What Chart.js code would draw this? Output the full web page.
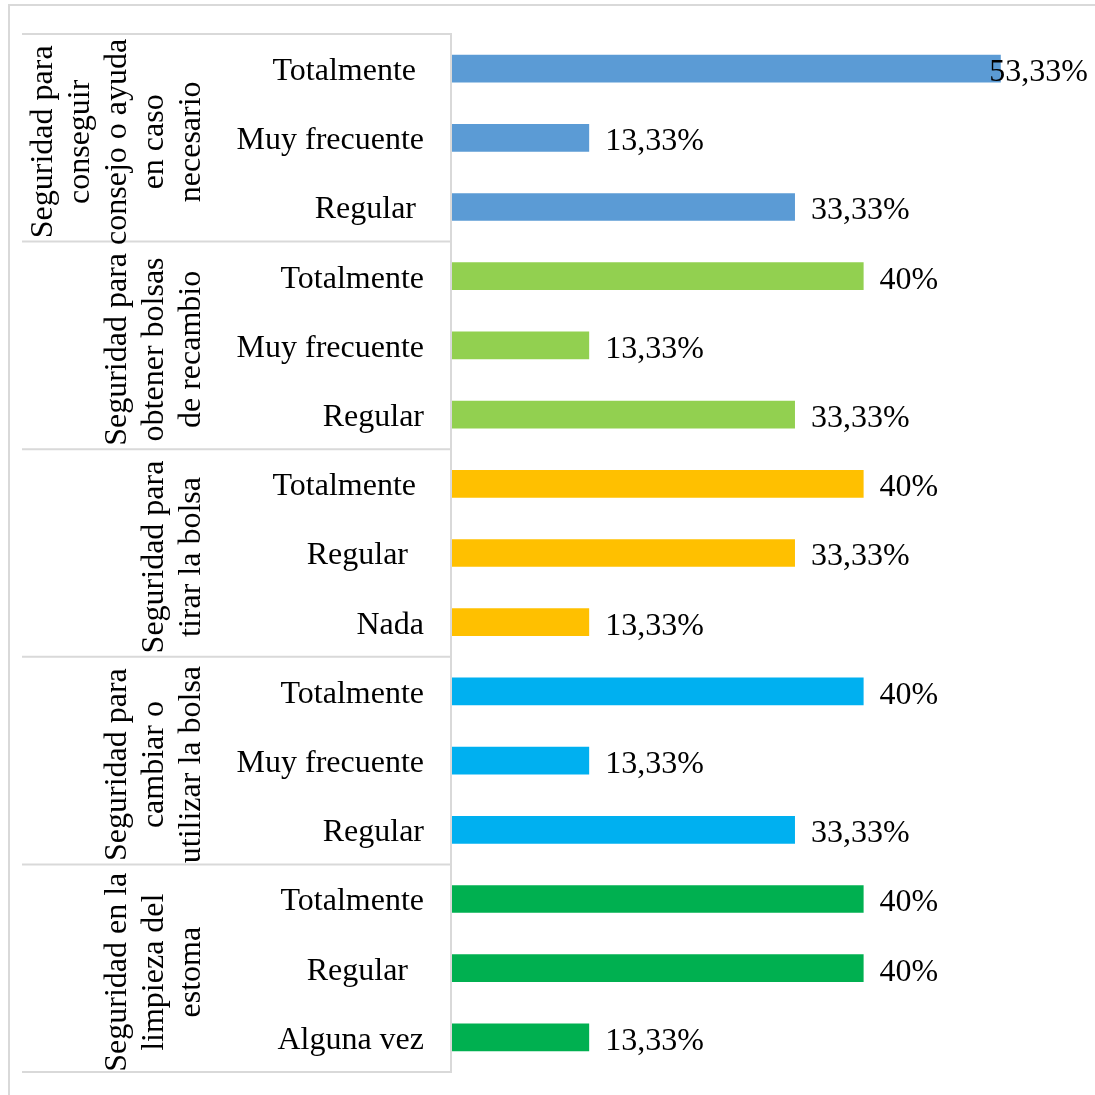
<!DOCTYPE html>
<html>
<head>
<meta charset="utf-8">
<script src="https://cdn.jsdelivr.net/npm/chart.js@4.4.1/dist/chart.umd.min.js"></script>
<style>
  html, body { margin: 0; padding: 0; background: #ffffff; }
  canvas { display: block; }
</style>
</head>
<body>
<canvas id="seguridadChart" width="1095" height="1095"></canvas>
<script>
// grupos (etiqueta girada, una entrada por línea)
const grupos = [
    ['Seguridad para', 'conseguir', 'consejo o ayuda', 'en caso', 'necesario'],
    ['Seguridad para', 'obtener bolsas', 'de recambio'],
    ['Seguridad para', 'tirar la bolsa'],
    ['Seguridad para', 'cambiar o', 'utilizar la bolsa'],
    ['Seguridad en la', 'limpieza del', 'estoma']
];

// respuestas tal cual vienen de la hoja (algunas con espacios al final)
const respuestas = [
    'Totalmente ', 'Muy frecuente', 'Regular ',
    'Totalmente', 'Muy frecuente', 'Regular',
    'Totalmente ', 'Regular  ', 'Nada',
    'Totalmente', 'Muy frecuente', 'Regular',
    'Totalmente', 'Regular  ', 'Alguna vez'
];

const porcentajes = [
    53.33, 13.33, 33.33,
    40, 13.33, 33.33,
    40, 33.33, 13.33,
    40, 13.33, 33.33,
    40, 40, 13.33
];

const grupoDeBarra = [0, 0, 0, 1, 1, 1, 2, 2, 2, 3, 3, 3, 4, 4, 4];
const coloresGrupo = ['#5B9BD5', '#92D050', '#FFC000', '#00B0F0', '#00B050'];

const fuente = "'Liberation Serif', 'Times New Roman', serif";
const tamFuente = 32;
const gris = '#d9d9d9';

function formatoPct(v) {
    if (Number.isInteger(v)) return v + '%';
    return v.toFixed(2).replace('.', ',') + '%';
}

// marco exterior, líneas de tabla y etiquetas de grupo
const tablaPlugin = {
    id: 'tabla',
    beforeDraw(chart) {
        const ctx = chart.ctx;
        const y = chart.scales.y;
        const area = chart.chartArea;
        ctx.save();
        ctx.strokeStyle = gris;
        ctx.lineWidth = 2;

        // marco
        ctx.beginPath();
        ctx.moveTo(9, chart.height);
        ctx.lineTo(9, 5);
        ctx.lineTo(chart.width, 5);
        ctx.stroke();

        // separadores de grupo
        const limites = [];
        let inicio = 0;
        grupos.forEach((g, gi) => {
            const n = grupoDeBarra.filter(v => v === gi).length;
            limites.push([inicio, inicio + n - 1]);
            inicio += n;
        });
        ctx.beginPath();
        limites.forEach(([a, b], gi) => {
            const top = y.getPixelForValue(a - 0.5);
            const bot = y.getPixelForValue(b + 0.5);
            if (gi === 0) {
                ctx.moveTo(22, top);
                ctx.lineTo(area.left, top);
            }
            ctx.moveTo(22, bot);
            ctx.lineTo(area.left, bot);
        });
        ctx.moveTo(area.left - 1, y.getPixelForValue(-0.5));
        ctx.lineTo(area.left - 1, y.getPixelForValue(respuestas.length - 0.5));
        ctx.stroke();

        // etiquetas de grupo giradas
        ctx.fillStyle = '#000000';
        ctx.font = tamFuente + 'px ' + fuente;
        ctx.textAlign = 'center';
        ctx.textBaseline = 'middle';
        limites.forEach(([a, b], gi) => {
            const yc = (y.getPixelForValue(a - 0.5) + y.getPixelForValue(b + 0.5)) / 2 + 4;
            const lineas = grupos[gi];
            lineas.forEach((t, li) => {
                const xc = 192 - (lineas.length - 1 - li) * 37;
                ctx.save();
                ctx.translate(xc, yc);
                ctx.rotate(-Math.PI / 2);
                ctx.fillText(t, 0, 0);
                ctx.restore();
            });
        });
        ctx.restore();
    }
};

// valores al final de cada barra
const valoresPlugin = {
    id: 'valores',
    afterDatasetsDraw(chart) {
        const ctx = chart.ctx;
        const meta = chart.getDatasetMeta(0);
        ctx.save();
        ctx.fillStyle = '#000000';
        ctx.font = tamFuente + 'px ' + fuente;
        ctx.textAlign = 'left';
        ctx.textBaseline = 'middle';
        meta.data.forEach((bar, i) => {
            const txt = formatoPct(porcentajes[i]);
            const w = ctx.measureText(txt).width;
            const x = Math.min(bar.x + 16, chart.chartArea.right - 2 - w);
            ctx.fillText(txt, x, bar.y + 4);
        });
        ctx.restore();
    }
};

const ctx = document.getElementById('seguridadChart').getContext('2d');
new Chart(ctx, {
    type: 'bar',
    data: {
        labels: respuestas,
        datasets: [{
            data: porcentajes,
            backgroundColor: grupoDeBarra.map(g => coloresGrupo[g]),
            borderWidth: 0,
            barPercentage: 0.4,
            categoryPercentage: 1
        }]
    },
    options: {
        indexAxis: 'y',
        responsive: false,
        animation: false,
        devicePixelRatio: 1,
        layout: {
            padding: { top: 34, bottom: 23, left: 0, right: 5 }
        },
        scales: {
            x: {
                display: false,
                min: 0,
                max: 62
            },
            y: {
                grid: { display: false, drawTicks: false },
                border: { display: false },
                ticks: {
                    color: '#000000',
                    padding: 28,
                    labelOffset: 3,
                    autoSkip: false,
                    font: { family: fuente, size: tamFuente }
                },
                afterFit(scale) {
                    scale.width = 452;
                    scale.paddingTop = 0;
                    scale.paddingBottom = 0;
                }
            }
        },
        plugins: {
            legend: { display: false },
            tooltip: { enabled: false }
        }
    },
    plugins: [tablaPlugin, valoresPlugin]
});
</script>
</body>
</html>
